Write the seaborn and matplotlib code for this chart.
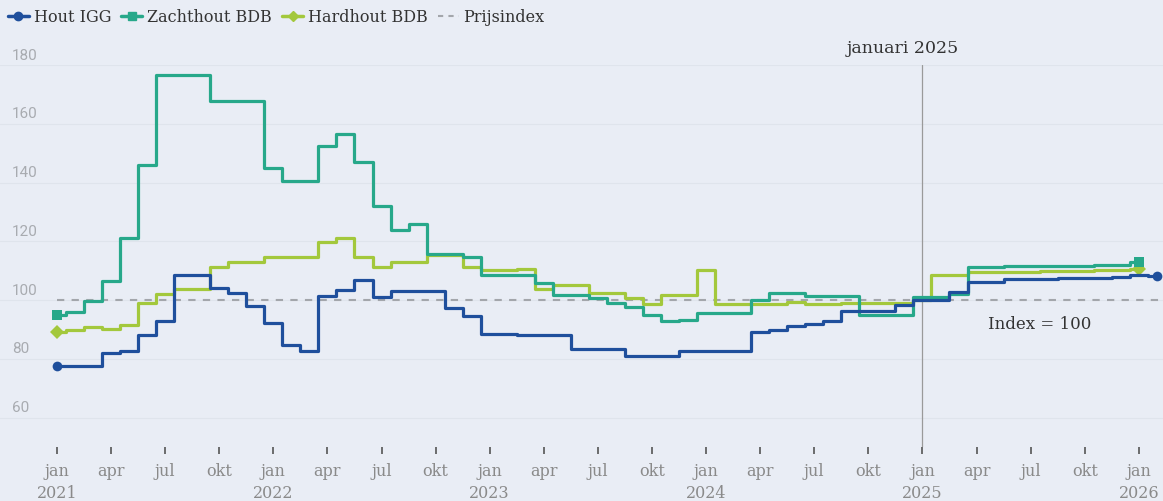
import numpy as np
import seaborn as sns
from matplotlib import pyplot as plt
from matplotlib import transforms
from matplotlib.lines import Line2D

# maandwaarden, jan 2021 = maand 0
hout_igg = [77.5, 77.5, 77.5, 82.0, 82.8, 88.2, 92.8, 108.6, 108.6, 104.0,
            102.4, 97.9, 92.2, 84.6, 82.8, 101.3, 103.5, 106.9, 100.9, 103.2,
            103.2, 103.2, 97.3, 94.5, 88.5, 88.5, 88.0, 88.0, 88.0, 83.3,
            83.3, 83.3, 80.9, 80.9, 80.9, 82.8, 82.8, 82.8, 82.8, 89.2,
            89.9, 91.1, 92.0, 93.0, 96.4, 96.4, 96.4, 98.2, 100.0, 100.0,
            102.9, 106.1, 106.1, 107.1, 107.1, 107.1, 107.6, 107.6, 107.6, 108.0,
            108.6, 108.2]
zachthout_bdb = [95.0, 95.9, 99.6, 106.6, 121.0, 145.9, 176.6, 176.6, 176.6, 167.7,
                 167.7, 167.7, 145.0, 140.5, 140.5, 152.4, 156.6, 147.0, 132.0, 123.8,
                 125.8, 115.6, 115.6, 114.6, 108.4, 108.4, 108.4, 105.9, 101.7, 101.7,
                 100.7, 99.0, 97.5, 94.8, 92.8, 93.3, 95.6, 95.6, 95.6, 100.0,
                 102.4, 102.4, 101.3, 101.3, 101.3, 95.0, 95.0, 95.0, 101.0, 101.0,
                 102.1, 111.4, 111.4, 111.5, 111.5, 111.6, 111.6, 111.7, 111.8, 111.9,
                 113.0]
hardhout_bdb = [89.2, 89.9, 90.7, 90.3, 91.4, 99.0, 102.1, 103.6, 103.6, 111.1,
                113.1, 113.1, 114.8, 114.8, 114.5, 119.9, 121.0, 114.5, 111.1, 113.1,
                113.1, 115.4, 115.4, 111.4, 110.3, 110.3, 110.6, 103.8, 105.0, 105.0,
                102.4, 102.4, 100.7, 98.6, 101.6, 101.6, 110.3, 98.6, 98.6, 98.6,
                98.6, 99.3, 98.6, 98.6, 99.0, 99.0, 99.0, 99.0, 100.0, 108.5,
                108.5, 109.5, 109.5, 109.6, 109.7, 109.8, 109.9, 110.0, 110.1, 110.3,
                110.5]
prijsindex = 100

tick_maanden = list(range(0, 61, 3))
tick_labels = ['jan\n2021', 'apr', 'jul', 'okt', 'jan\n2022', 'apr', 'jul', 'okt',
               'jan\n2023', 'apr', 'jul', 'okt', 'jan\n2024', 'apr', 'jul', 'okt',
               'jan\n2025', 'apr', 'jul', 'okt', 'jan\n2026']
y_ticks = [60, 80, 100, 120, 140, 160, 180]

# kleuren
bg = '#e9edf5'
blauw = '#1f4f9c'
teal = '#27a88a'
groen = '#a3c83c'
grijs = '#a3a6ab'
tekst = '#333333'

sns.set_theme(style='white')
plt.rcParams['font.family'] = ['DejaVu Serif']

fig = plt.figure(figsize=(11.63, 5.02), dpi=100, facecolor=bg)
ax = fig.add_axes([0, 54 / 502, 1, 382 / 502])
ax.set_facecolor(bg)
for s in ax.spines.values():
    s.set_visible(False)

# lijnen (blauw bovenop)
series = [
    (hardhout_bdb, groen, 'D', 7, 2),
    (zachthout_bdb, teal, 's', 6.5, 3),
    (hout_igg, blauw, 'o', 7, 4),
]
for waarden, kleur, mk, ms, z in series:
    x = np.arange(len(waarden))
    sns.lineplot(x=x, y=waarden, ax=ax, color=kleur, linewidth=2.3,
                 drawstyle='steps-mid', marker=mk, markersize=ms,
                 markevery=[0, len(waarden) - 1], markeredgecolor=kleur,
                 markeredgewidth=0, zorder=z, legend=False)

ax.hlines(prijsindex, 0, 61.4, colors=grijs, linestyles=(0, (3.5, 3.5)), lw=1.5, zorder=1)
ax.axvline(48, color='#9a9a9a', lw=0.9, zorder=1)

ax.set_xlim(-57 / 18.03, (1163 - 57) / 18.03)
ax.set_ylim(50, 180)

# gridlijnen + y-labels boven de lijn
ax.set_yticks(y_ticks)
ax.grid(axis='y', color='#dfe4ec', lw=0.8)
ax.grid(axis='x', visible=False)
ax.tick_params(axis='y', length=0, labelleft=False)
trans = transforms.blended_transform_factory(ax.transAxes, ax.transData) + \
    transforms.ScaledTranslation(0, 2.5 / 72, fig.dpi_scale_trans)
for v in y_ticks:
    ax.text(12 / 1163, v, str(v), transform=trans, ha='left', va='bottom',
            fontsize=11, color='#a8abb0', family=['Roboto', 'DejaVu Sans'])

ax.set_xticks(tick_maanden, tick_labels)
ax.tick_params(axis='x', length=5, width=1.2, color='#555555', pad=6,
               labelsize=11.5, labelcolor='#8a8a8a', bottom=True)
for lab in ax.get_xticklabels():
    lab.set_linespacing(1.35)
ax.set_xlabel('')
ax.set_ylabel('')

ax.text(46.92, 185.8, 'januari 2025', ha='center', va='center', fontsize=12.5,
        color=tekst, clip_on=False)
ax.text(54.5, 92.1, 'Index = 100', ha='center', va='center', fontsize=12, color=tekst)

# legenda
handles = [
    Line2D([], [], color=blauw, lw=2.5, marker='o', markersize=6),
    Line2D([], [], color=teal, lw=2.5, marker='s', markersize=5.5),
    Line2D([], [], color=groen, lw=2.5, marker='D', markersize=5.5),
    Line2D([], [], color=grijs, lw=1.5, ls=(0, (2.5, 2.5))),
]
labels = ['Hout IGG', 'Zachthout BDB', 'Hardhout BDB', 'Prijsindex']
leg = fig.legend(handles, labels, loc='center left', bbox_to_anchor=(8 / 1163, 1 - 18 / 502),
                 ncol=4, frameon=False, fontsize=11.5, handlelength=1.3,
                 handletextpad=0.3, columnspacing=0.65, borderpad=0, borderaxespad=0,
                 numpoints=1)
for t in leg.get_texts():
    t.set_color(tekst)

fig.savefig('out.png', dpi=100, facecolor=bg)
